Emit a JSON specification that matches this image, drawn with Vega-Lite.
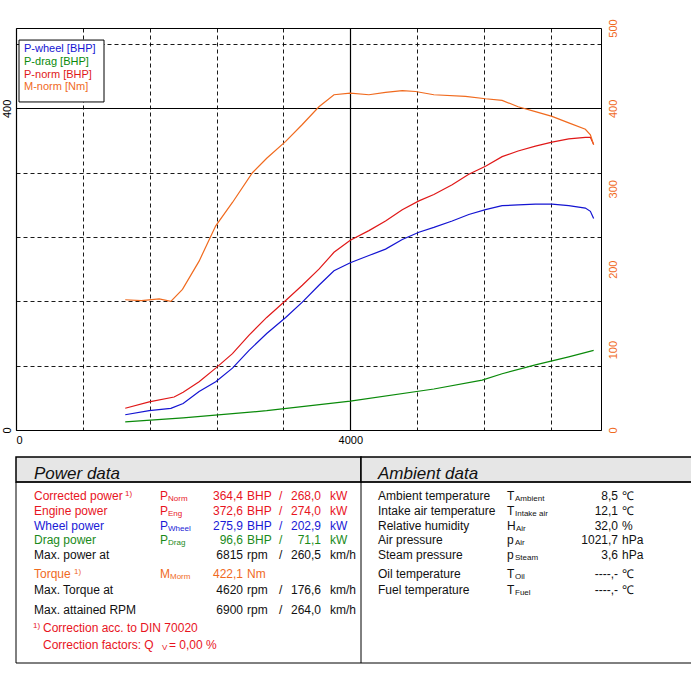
{
  "$schema": "https://vega.github.io/schema/vega-lite/v6.json",
  "background": "white",
  "padding": {"left": 0, "top": 18, "right": 0, "bottom": 0},
  "spacing": 10,
  "config": {"font": "Liberation Sans", "view": {"stroke": null}},
  "resolve": {"scale": {"color": "independent", "x": "independent", "y": "independent"}},
  "datasets": {
    "curves": [
      {"rpm": 1307, "value": 19, "series": "P-wheel [BHP]"},
      {"rpm": 1594, "value": 24, "series": "P-wheel [BHP]"},
      {"rpm": 1853, "value": 27, "series": "P-wheel [BHP]"},
      {"rpm": 2000, "value": 33, "series": "P-wheel [BHP]"},
      {"rpm": 2191, "value": 48, "series": "P-wheel [BHP]"},
      {"rpm": 2390, "value": 60, "series": "P-wheel [BHP]"},
      {"rpm": 2590, "value": 77, "series": "P-wheel [BHP]"},
      {"rpm": 2789, "value": 99, "series": "P-wheel [BHP]"},
      {"rpm": 3000, "value": 120, "series": "P-wheel [BHP]"},
      {"rpm": 3227, "value": 140, "series": "P-wheel [BHP]"},
      {"rpm": 3426, "value": 159, "series": "P-wheel [BHP]"},
      {"rpm": 3625, "value": 180, "series": "P-wheel [BHP]"},
      {"rpm": 3805, "value": 198, "series": "P-wheel [BHP]"},
      {"rpm": 4000, "value": 208, "series": "P-wheel [BHP]"},
      {"rpm": 4223, "value": 217, "series": "P-wheel [BHP]"},
      {"rpm": 4422, "value": 225, "series": "P-wheel [BHP]"},
      {"rpm": 4622, "value": 237, "series": "P-wheel [BHP]"},
      {"rpm": 4821, "value": 246, "series": "P-wheel [BHP]"},
      {"rpm": 5000, "value": 252, "series": "P-wheel [BHP]"},
      {"rpm": 5219, "value": 260, "series": "P-wheel [BHP]"},
      {"rpm": 5418, "value": 268, "series": "P-wheel [BHP]"},
      {"rpm": 5618, "value": 274, "series": "P-wheel [BHP]"},
      {"rpm": 5817, "value": 279, "series": "P-wheel [BHP]"},
      {"rpm": 6008, "value": 280, "series": "P-wheel [BHP]"},
      {"rpm": 6215, "value": 281, "series": "P-wheel [BHP]"},
      {"rpm": 6414, "value": 281, "series": "P-wheel [BHP]"},
      {"rpm": 6614, "value": 279, "series": "P-wheel [BHP]"},
      {"rpm": 6813, "value": 276, "series": "P-wheel [BHP]"},
      {"rpm": 6873, "value": 272, "series": "P-wheel [BHP]"},
      {"rpm": 6912, "value": 263, "series": "P-wheel [BHP]"},
      {"rpm": 1307, "value": 10, "series": "P-drag [BHP]"},
      {"rpm": 2000, "value": 15, "series": "P-drag [BHP]"},
      {"rpm": 3000, "value": 24, "series": "P-drag [BHP]"},
      {"rpm": 4000, "value": 36, "series": "P-drag [BHP]"},
      {"rpm": 5000, "value": 51, "series": "P-drag [BHP]"},
      {"rpm": 5578, "value": 62, "series": "P-drag [BHP]"},
      {"rpm": 5817, "value": 70, "series": "P-drag [BHP]"},
      {"rpm": 6215, "value": 81, "series": "P-drag [BHP]"},
      {"rpm": 6614, "value": 91, "series": "P-drag [BHP]"},
      {"rpm": 6912, "value": 99, "series": "P-drag [BHP]"},
      {"rpm": 1307, "value": 27, "series": "P-norm [BHP]"},
      {"rpm": 1594, "value": 35, "series": "P-norm [BHP]"},
      {"rpm": 1892, "value": 41, "series": "P-norm [BHP]"},
      {"rpm": 2000, "value": 47, "series": "P-norm [BHP]"},
      {"rpm": 2191, "value": 60, "series": "P-norm [BHP]"},
      {"rpm": 2390, "value": 77, "series": "P-norm [BHP]"},
      {"rpm": 2590, "value": 95, "series": "P-norm [BHP]"},
      {"rpm": 2789, "value": 118, "series": "P-norm [BHP]"},
      {"rpm": 3000, "value": 140, "series": "P-norm [BHP]"},
      {"rpm": 3227, "value": 161, "series": "P-norm [BHP]"},
      {"rpm": 3426, "value": 180, "series": "P-norm [BHP]"},
      {"rpm": 3625, "value": 200, "series": "P-norm [BHP]"},
      {"rpm": 3805, "value": 221, "series": "P-norm [BHP]"},
      {"rpm": 4000, "value": 236, "series": "P-norm [BHP]"},
      {"rpm": 4223, "value": 248, "series": "P-norm [BHP]"},
      {"rpm": 4422, "value": 260, "series": "P-norm [BHP]"},
      {"rpm": 4622, "value": 274, "series": "P-norm [BHP]"},
      {"rpm": 4821, "value": 285, "series": "P-norm [BHP]"},
      {"rpm": 5000, "value": 293, "series": "P-norm [BHP]"},
      {"rpm": 5219, "value": 305, "series": "P-norm [BHP]"},
      {"rpm": 5418, "value": 318, "series": "P-norm [BHP]"},
      {"rpm": 5618, "value": 328, "series": "P-norm [BHP]"},
      {"rpm": 5817, "value": 340, "series": "P-norm [BHP]"},
      {"rpm": 6008, "value": 347, "series": "P-norm [BHP]"},
      {"rpm": 6215, "value": 353, "series": "P-norm [BHP]"},
      {"rpm": 6414, "value": 358, "series": "P-norm [BHP]"},
      {"rpm": 6614, "value": 362, "series": "P-norm [BHP]"},
      {"rpm": 6813, "value": 364, "series": "P-norm [BHP]"},
      {"rpm": 6873, "value": 364, "series": "P-norm [BHP]"},
      {"rpm": 6912, "value": 355, "series": "P-norm [BHP]"}
    ],
    "torque": [
      {"rpm": 1307, "value": 162}, {"rpm": 1500, "value": 161}, {"rpm": 1713, "value": 163},
      {"rpm": 1853, "value": 160}, {"rpm": 1992, "value": 175}, {"rpm": 2191, "value": 210},
      {"rpm": 2390, "value": 254}, {"rpm": 2590, "value": 283}, {"rpm": 2829, "value": 320},
      {"rpm": 3000, "value": 338}, {"rpm": 3227, "value": 359}, {"rpm": 3426, "value": 380},
      {"rpm": 3625, "value": 402}, {"rpm": 3805, "value": 417}, {"rpm": 4000, "value": 419},
      {"rpm": 4223, "value": 417}, {"rpm": 4422, "value": 420}, {"rpm": 4622, "value": 422},
      {"rpm": 4781, "value": 421}, {"rpm": 5000, "value": 417}, {"rpm": 5378, "value": 415},
      {"rpm": 5618, "value": 412}, {"rpm": 5817, "value": 410}, {"rpm": 6008, "value": 402},
      {"rpm": 6215, "value": 396}, {"rpm": 6414, "value": 390}, {"rpm": 6614, "value": 382},
      {"rpm": 6813, "value": 374}, {"rpm": 6873, "value": 367}, {"rpm": 6912, "value": 355}
    ],
    "legend": [
      {"rpm": 96, "value": 474, "series": "P-wheel [BHP]"},
      {"rpm": 96, "value": 458, "series": "P-drag [BHP]"},
      {"rpm": 96, "value": 442, "series": "P-norm [BHP]"},
      {"rpm": 96, "value": 426, "series": "M-norm [Nm]"}
    ],
    "cells": [
      {"x": 18, "y": 17, "t": "Power data", "c": "plain", "r": "head"},
      {"x": 362, "y": 17, "t": "Ambient data", "c": "plain", "r": "head"},
      {"x": 18, "y": 39, "t": "Corrected power", "c": "norm", "r": "left"},
      {"x": 109, "y": 37, "t": "1)", "c": "norm", "r": "sup"},
      {"x": 144, "y": 39, "t": "P", "c": "norm", "r": "left"},
      {"x": 152, "y": 42, "t": "Norm", "c": "norm", "r": "sub"},
      {"x": 227, "y": 39, "t": "364,4", "c": "norm", "r": "right"},
      {"x": 231, "y": 39, "t": "BHP", "c": "norm", "r": "left"},
      {"x": 263, "y": 39, "t": "/", "c": "norm", "r": "left"},
      {"x": 305, "y": 39, "t": "268,0", "c": "norm", "r": "right"},
      {"x": 314, "y": 39, "t": "kW", "c": "norm", "r": "left"},
      {"x": 18, "y": 54, "t": "Engine power", "c": "norm", "r": "left"},
      {"x": 144, "y": 54, "t": "P", "c": "norm", "r": "left"},
      {"x": 152, "y": 57, "t": "Eng", "c": "norm", "r": "sub"},
      {"x": 227, "y": 54, "t": "372,6", "c": "norm", "r": "right"},
      {"x": 231, "y": 54, "t": "BHP", "c": "norm", "r": "left"},
      {"x": 263, "y": 54, "t": "/", "c": "norm", "r": "left"},
      {"x": 305, "y": 54, "t": "274,0", "c": "norm", "r": "right"},
      {"x": 314, "y": 54, "t": "kW", "c": "norm", "r": "left"},
      {"x": 18, "y": 69, "t": "Wheel power", "c": "wheel", "r": "left"},
      {"x": 144, "y": 69, "t": "P", "c": "wheel", "r": "left"},
      {"x": 152, "y": 72, "t": "Wheel", "c": "wheel", "r": "sub"},
      {"x": 227, "y": 69, "t": "275,9", "c": "wheel", "r": "right"},
      {"x": 231, "y": 69, "t": "BHP", "c": "wheel", "r": "left"},
      {"x": 263, "y": 69, "t": "/", "c": "wheel", "r": "left"},
      {"x": 305, "y": 69, "t": "202,9", "c": "wheel", "r": "right"},
      {"x": 314, "y": 69, "t": "kW", "c": "wheel", "r": "left"},
      {"x": 18, "y": 83, "t": "Drag power", "c": "drag", "r": "left"},
      {"x": 144, "y": 83, "t": "P", "c": "drag", "r": "left"},
      {"x": 152, "y": 86, "t": "Drag", "c": "drag", "r": "sub"},
      {"x": 227, "y": 83, "t": "96,6", "c": "drag", "r": "right"},
      {"x": 231, "y": 83, "t": "BHP", "c": "drag", "r": "left"},
      {"x": 263, "y": 83, "t": "/", "c": "drag", "r": "left"},
      {"x": 305, "y": 83, "t": "71,1", "c": "drag", "r": "right"},
      {"x": 314, "y": 83, "t": "kW", "c": "drag", "r": "left"},
      {"x": 18, "y": 98, "t": "Max. power at", "c": "plain", "r": "left"},
      {"x": 227, "y": 98, "t": "6815", "c": "plain", "r": "right"},
      {"x": 231, "y": 98, "t": "rpm", "c": "plain", "r": "left"},
      {"x": 263, "y": 98, "t": "/", "c": "plain", "r": "left"},
      {"x": 305, "y": 98, "t": "260,5", "c": "plain", "r": "right"},
      {"x": 314, "y": 98, "t": "km/h", "c": "plain", "r": "left"},
      {"x": 18, "y": 117, "t": "Torque", "c": "torque", "r": "left"},
      {"x": 58, "y": 115, "t": "1)", "c": "torque", "r": "sup"},
      {"x": 144, "y": 117, "t": "M", "c": "torque", "r": "left"},
      {"x": 154, "y": 120, "t": "Morm", "c": "torque", "r": "sub"},
      {"x": 227, "y": 117, "t": "422,1", "c": "torque", "r": "right"},
      {"x": 231, "y": 117, "t": "Nm", "c": "torque", "r": "left"},
      {"x": 18, "y": 133, "t": "Max. Torque at", "c": "plain", "r": "left"},
      {"x": 227, "y": 133, "t": "4620", "c": "plain", "r": "right"},
      {"x": 231, "y": 133, "t": "rpm", "c": "plain", "r": "left"},
      {"x": 263, "y": 133, "t": "/", "c": "plain", "r": "left"},
      {"x": 305, "y": 133, "t": "176,6", "c": "plain", "r": "right"},
      {"x": 314, "y": 133, "t": "km/h", "c": "plain", "r": "left"},
      {"x": 18, "y": 153, "t": "Max. attained RPM", "c": "plain", "r": "left"},
      {"x": 227, "y": 153, "t": "6900", "c": "plain", "r": "right"},
      {"x": 231, "y": 153, "t": "rpm", "c": "plain", "r": "left"},
      {"x": 263, "y": 153, "t": "/", "c": "plain", "r": "left"},
      {"x": 305, "y": 153, "t": "264,0", "c": "plain", "r": "right"},
      {"x": 314, "y": 153, "t": "km/h", "c": "plain", "r": "left"},
      {"x": 17, "y": 169, "t": "1)", "c": "norm", "r": "sup"},
      {"x": 27, "y": 171, "t": "Correction acc. to DIN 70020", "c": "norm", "r": "left"},
      {"x": 27, "y": 188, "t": "Correction factors: Q", "c": "norm", "r": "left"},
      {"x": 146, "y": 191, "t": "V", "c": "norm", "r": "sub"},
      {"x": 153, "y": 188, "t": "=   0,00 %", "c": "norm", "r": "left"},
      {"x": 362, "y": 39, "t": "Ambient temperature", "c": "plain", "r": "left"},
      {"x": 491, "y": 39, "t": "T", "c": "plain", "r": "left"},
      {"x": 499, "y": 42, "t": "Ambient", "c": "plain", "r": "sub"},
      {"x": 602, "y": 39, "t": "8,5", "c": "plain", "r": "right"},
      {"x": 606, "y": 39, "t": "℃", "c": "plain", "r": "left"},
      {"x": 362, "y": 54, "t": "Intake air temperature", "c": "plain", "r": "left"},
      {"x": 491, "y": 54, "t": "T", "c": "plain", "r": "left"},
      {"x": 499, "y": 57, "t": "Intake air", "c": "plain", "r": "sub"},
      {"x": 602, "y": 54, "t": "12,1", "c": "plain", "r": "right"},
      {"x": 606, "y": 54, "t": "℃", "c": "plain", "r": "left"},
      {"x": 362, "y": 69, "t": "Relative humidity", "c": "plain", "r": "left"},
      {"x": 491, "y": 69, "t": "H", "c": "plain", "r": "left"},
      {"x": 500, "y": 72, "t": "Air", "c": "plain", "r": "sub"},
      {"x": 602, "y": 69, "t": "32,0", "c": "plain", "r": "right"},
      {"x": 606, "y": 69, "t": "%", "c": "plain", "r": "left"},
      {"x": 362, "y": 83, "t": "Air pressure", "c": "plain", "r": "left"},
      {"x": 491, "y": 83, "t": "p", "c": "plain", "r": "left"},
      {"x": 499, "y": 86, "t": "Air", "c": "plain", "r": "sub"},
      {"x": 602, "y": 83, "t": "1021,7", "c": "plain", "r": "right"},
      {"x": 606, "y": 83, "t": "hPa", "c": "plain", "r": "left"},
      {"x": 362, "y": 98, "t": "Steam pressure", "c": "plain", "r": "left"},
      {"x": 491, "y": 98, "t": "p", "c": "plain", "r": "left"},
      {"x": 499, "y": 101, "t": "Steam", "c": "plain", "r": "sub"},
      {"x": 602, "y": 98, "t": "3,6", "c": "plain", "r": "right"},
      {"x": 606, "y": 98, "t": "hPa", "c": "plain", "r": "left"},
      {"x": 362, "y": 117, "t": "Oil temperature", "c": "plain", "r": "left"},
      {"x": 491, "y": 117, "t": "T", "c": "plain", "r": "left"},
      {"x": 499, "y": 120, "t": "Oil", "c": "plain", "r": "sub"},
      {"x": 602, "y": 117, "t": "----,-", "c": "plain", "r": "right"},
      {"x": 606, "y": 117, "t": "℃", "c": "plain", "r": "left"},
      {"x": 362, "y": 133, "t": "Fuel temperature", "c": "plain", "r": "left"},
      {"x": 491, "y": 133, "t": "T", "c": "plain", "r": "left"},
      {"x": 499, "y": 136, "t": "Fuel", "c": "plain", "r": "sub"},
      {"x": 602, "y": 133, "t": "----,-", "c": "plain", "r": "right"},
      {"x": 606, "y": 133, "t": "℃", "c": "plain", "r": "left"}
    ],
    "boxes": [
      {"x": 0, "x2": 345, "y": 0, "y2": 25},
      {"x": 345, "x2": 690, "y": 0, "y2": 25}
    ],
    "frame": [
      {"x": 0, "x2": 690, "y": 25, "y2": 206}
    ],
    "divider": [
      {"x": 345, "y": 25, "y2": 206}
    ]
  },
  "vconcat": [
    {
      "width": 585,
      "height": 402,
      "view": {"stroke": "black", "strokeWidth": 1},
      "layer": [
        {
          "layer": [
            {
              "data": {"name": "curves"},
              "mark": {"type": "line", "strokeWidth": 1.2},
              "encoding": {
                "x": {
                  "field": "rpm", "type": "quantitative",
                  "scale": {"domain": [0, 7000], "nice": false},
                  "axis": {
                    "values": [0,200,400,600,800,1000,1200,1400,1600,1800,2000,2200,2400,2600,2800,3000,3200,3400,3600,3800,4000,4200,4400,4600,4800,5000,5200,5400,5600,5800,6000,6200,6400,6600,6800,7000],
                    "labelExpr": "datum.value % 1000 === 0 ? datum.value : ''",
                    "labelOverlap": false,
                    "labelFontSize": 11, "labelColor": "black", "labelPadding": 4,
                    "ticks": false, "domain": false,
                    "grid": true, "gridColor": "black",
                    "gridDash": {"condition": {"test": "datum.value % 1000 === 0", "value": []}, "value": [4, 3]},
                    "gridWidth": {"condition": {"test": "datum.value % 1000 === 0", "value": 1.2}, "value": 0.9},
                    "gridOpacity": 1,
                    "title": "n [rpm]", "titleAnchor": "end", "titleAlign": "right", "titleX": 635,
                    "titleFontWeight": "normal", "titleFontSize": 11, "titlePadding": 0
                  }
                },
                "y": {
                  "field": "value", "type": "quantitative",
                  "scale": {"domain": [0, 500], "nice": false},
                  "axis": {
                    "values": [0,20,40,60,80,100,120,140,160,180,200,220,240,260,280,300,320,340,360,380,400,420,440,460,480,500],
                    "labelExpr": "datum.value % 100 === 0 ? datum.value : ''",
                    "labelOverlap": false,
                    "labelAngle": -90, "labelAlign": "center", "labelBaseline": "bottom",
                    "labelFontSize": 11, "labelColor": "black", "labelPadding": 4,
                    "ticks": false, "domain": false,
                    "grid": true, "gridColor": "black",
                    "gridDash": {"condition": {"test": "datum.value % 100 === 0", "value": []}, "value": [4, 3]},
                    "gridWidth": {"condition": {"test": "datum.value % 100 === 0", "value": 1.2}, "value": 0.9},
                    "gridOpacity": 1,
                    "title": null
                  }
                },
                "color": {
                  "field": "series", "type": "nominal",
                  "scale": {"domain": ["P-wheel [BHP]", "P-drag [BHP]", "P-norm [BHP]", "M-norm [Nm]"], "range": ["#1414d2", "#0a8a0a", "#e01818", "#f06a1e"]},
                  "legend": null
                }
              }
            },
            {
              "data": {"values": [{"rpm": 36, "rpm2": 1053, "value": 485, "value2": 408}]},
              "mark": {"type": "rect", "fill": "white", "stroke": "black", "strokeWidth": 1},
              "encoding": {
                "x": {"field": "rpm", "type": "quantitative", "title": null},
                "x2": {"field": "rpm2"},
                "y": {"field": "value", "type": "quantitative", "title": null},
                "y2": {"field": "value2"}
              }
            },
            {
              "data": {"name": "legend"},
              "mark": {"type": "text", "align": "left", "baseline": "middle", "fontSize": 11},
              "encoding": {
                "x": {"field": "rpm", "type": "quantitative", "title": null},
                "y": {"field": "value", "type": "quantitative", "title": null},
                "text": {"field": "series"},
                "color": {"field": "series", "type": "nominal", "legend": null}
              }
            }
          ]
        },
        {
          "data": {"name": "torque"},
          "mark": {"type": "line", "strokeWidth": 1.2, "color": "#f06a1e"},
          "encoding": {
            "x": {"field": "rpm", "type": "quantitative"},
            "y": {
              "field": "value", "type": "quantitative",
              "scale": {"domain": [0, 500], "nice": false},
              "axis": {
                "orient": "right",
                "values": [0, 100, 200, 300, 400, 500],
                "labelOverlap": false,
                "labelAngle": -90, "labelAlign": "center", "labelBaseline": "top",
                "labelFontSize": 11, "labelColor": "#f06a1e", "labelPadding": 6,
                "ticks": false, "domain": false, "grid": false, "title": null
              }
            }
          }
        }
      ],
      "resolve": {"scale": {"y": "independent"}}
    },
    {
      "width": 691,
      "height": 206,
      "layer": [
        {
          "data": {"name": "boxes"},
          "mark": {"type": "rect", "fill": "#e6e6e6", "stroke": "black", "strokeWidth": 1.5},
          "encoding": {
            "x": {"field": "x", "type": "quantitative", "scale": {"domain": [0, 691], "nice": false}, "axis": null},
            "x2": {"field": "x2"},
            "y": {"field": "y", "type": "quantitative", "scale": {"domain": [0, 206], "reverse": true, "nice": false}, "axis": null},
            "y2": {"field": "y2"}
          }
        },
        {
          "data": {"name": "frame"},
          "mark": {"type": "rect", "fill": null, "stroke": "black", "strokeWidth": 1},
          "encoding": {
            "x": {"field": "x", "type": "quantitative"},
            "x2": {"field": "x2"},
            "y": {"field": "y", "type": "quantitative"},
            "y2": {"field": "y2"}
          }
        },
        {
          "data": {"name": "divider"},
          "mark": {"type": "rule", "color": "black", "strokeWidth": 1},
          "encoding": {
            "x": {"field": "x", "type": "quantitative"},
            "y": {"field": "y", "type": "quantitative"},
            "y2": {"field": "y2"}
          }
        },
        {
          "data": {"name": "cells"},
          "transform": [{"filter": "datum.r === 'head'"}],
          "mark": {"type": "text", "align": "left", "baseline": "middle", "fontSize": 17, "fontStyle": "italic"},
          "encoding": {
            "x": {"field": "x", "type": "quantitative"},
            "y": {"field": "y", "type": "quantitative"},
            "text": {"field": "t"},
            "color": {"field": "c", "type": "nominal", "scale": {"domain": ["plain", "norm", "wheel", "drag", "torque"], "range": ["#111111", "#e8141e", "#1a1ad6", "#1a8a1a", "#f06a1e"]}, "legend": null}
          }
        },
        {
          "data": {"name": "cells"},
          "transform": [{"filter": "datum.r === 'left'"}],
          "mark": {"type": "text", "align": "left", "baseline": "middle", "fontSize": 12},
          "encoding": {
            "x": {"field": "x", "type": "quantitative"},
            "y": {"field": "y", "type": "quantitative"},
            "text": {"field": "t"},
            "color": {"field": "c", "type": "nominal", "legend": null}
          }
        },
        {
          "data": {"name": "cells"},
          "transform": [{"filter": "datum.r === 'right'"}],
          "mark": {"type": "text", "align": "right", "baseline": "middle", "fontSize": 12},
          "encoding": {
            "x": {"field": "x", "type": "quantitative"},
            "y": {"field": "y", "type": "quantitative"},
            "text": {"field": "t"},
            "color": {"field": "c", "type": "nominal", "legend": null}
          }
        },
        {
          "data": {"name": "cells"},
          "transform": [{"filter": "datum.r === 'sub' || datum.r === 'sup'"}],
          "mark": {"type": "text", "align": "left", "baseline": "middle", "fontSize": 8},
          "encoding": {
            "x": {"field": "x", "type": "quantitative"},
            "y": {"field": "y", "type": "quantitative"},
            "text": {"field": "t"},
            "color": {"field": "c", "type": "nominal", "legend": null}
          }
        }
      ]
    }
  ]
}
